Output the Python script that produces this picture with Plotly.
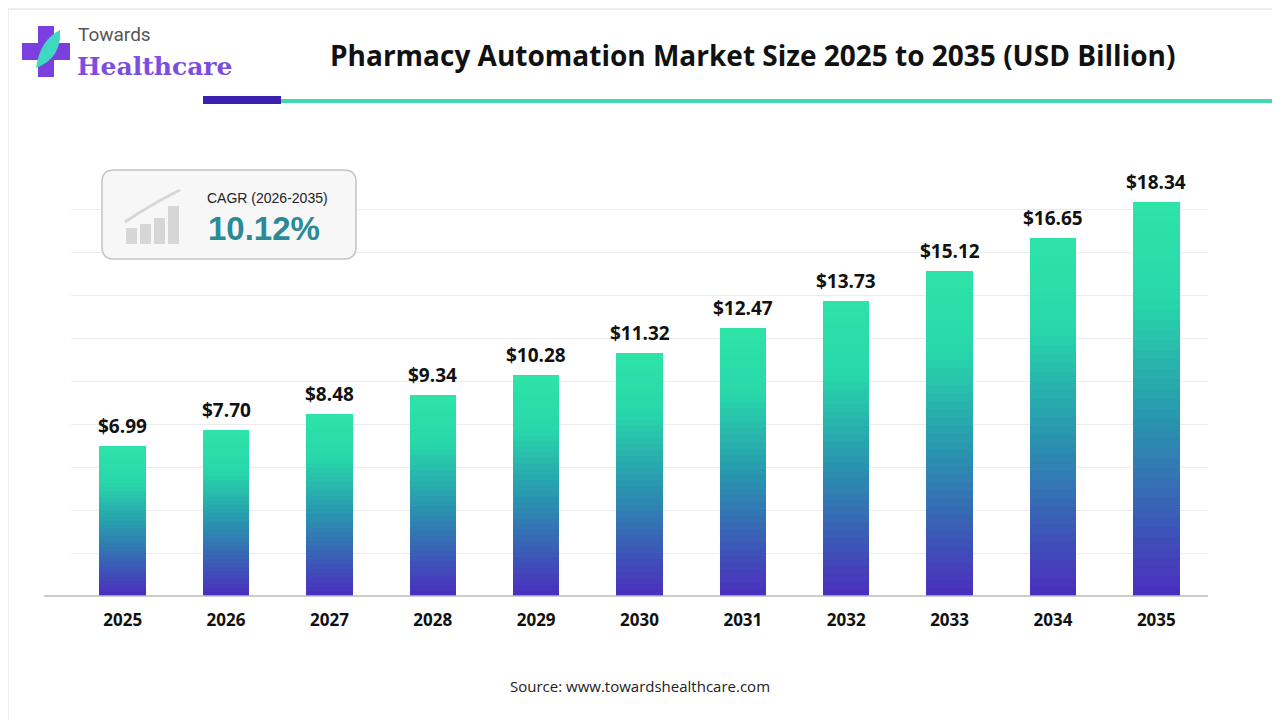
import plotly.graph_objects as go

years = ["2025", "2026", "2027", "2028", "2029", "2030", "2031", "2032", "2033", "2034", "2035"]
values = [6.99, 7.70, 8.48, 9.34, 10.28, 11.32, 12.47, 13.73, 15.12, 16.65, 18.34]
labels = ["$6.99", "$7.70", "$8.48", "$9.34", "$10.28", "$11.32", "$12.47", "$13.73", "$15.12", "$16.65", "$18.34"]

# gradient stops bottom -> top
stops = [(0.0, (75, 45, 190)), (0.45, (40, 150, 175)), (0.75, (40, 215, 170)), (1.0, (45, 228, 168))]
n_seg = 40


def grad(t):
    for (t0, c0), (t1, c1) in zip(stops[:-1], stops[1:]):
        if t <= t1:
            f = (t - t0) / (t1 - t0)
            return "rgb(%d,%d,%d)" % tuple(round(a + (b - a) * f) for a, b in zip(c0, c1))
    return "rgb(%d,%d,%d)" % stops[-1][1]


fig = go.Figure()
for i in range(n_seg):
    fig.add_trace(go.Bar(
        x=years, y=[v / n_seg for v in values],
        marker=dict(color=grad((i + 0.5) / n_seg), line=dict(width=0)),
        hoverinfo="skip", showlegend=False,
    ))

# on a category axis annotation x is the category index
for i, (v, lab) in enumerate(zip(values, labels)):
    fig.add_annotation(x=i, y=v, text="<b>" + lab + "</b>", showarrow=False, yshift=20,
                       font=dict(size=19, color="#111", family="Open Sans"))

# page body has an 8px offset; screen coords -> layout coords
OFF = 8
fig.update_layout(
    barmode="stack", bargap=0.55,
    width=1280, height=720,
    margin=dict(l=71 - OFF, r=80, t=166 - OFF, b=132),
    paper_bgcolor="white", plot_bgcolor="white",
    font=dict(family="Open Sans", color="#111"),
    xaxis=dict(type="category", tickfont=dict(size=17, family="Open Sans"), tickprefix="<b>", ticksuffix="</b>",
               showgrid=False, ticks="", ticklabelstandoff=12),
    yaxis=dict(range=[0, 20], dtick=2, showticklabels=False, gridcolor="#ececec", zeroline=False),
)


def px(x):
    return (x - 71) / 1137


def py(y):
    return (596 - y) / 430


shapes = [
    dict(type="line", xref="paper", yref="paper", x0=px(44), x1=1, y0=0, y1=0,
         line=dict(color="#bbbbbb", width=1.5)),
    dict(type="rect", xref="paper", yref="paper", x0=px(8), x1=px(1287),
         y0=py(727), y1=py(9), line=dict(color="#dddddd", width=1)),
    # header bars
    dict(type="rect", xref="paper", yref="paper", x0=px(203), x1=px(281), y0=py(104), y1=py(96),
         fillcolor="#3a1fb0", line=dict(width=0)),
    dict(type="rect", xref="paper", yref="paper", x0=px(281), x1=px(1290), y0=py(103), y1=py(99),
         fillcolor="#3fd8b0", line=dict(width=0)),
    # CAGR box
    dict(type="path", xref="paper", yref="paper", fillcolor="#f7f7f7", line=dict(color="#c4c4c4", width=1.5),
         path="M {0},{1} L {2},{1} Q {3},{1} {3},{4} L {3},{5} Q {3},{6} {2},{6} L {0},{6} Q {7},{6} {7},{5} L {7},{4} Q {7},{1} {0},{1} Z".format(
             px(114), py(170), px(344), px(356), py(182), py(247), py(259), px(102))),
    # logo cross
    dict(type="rect", xref="paper", yref="paper", x0=px(38), x1=px(54), y0=py(77), y1=py(26),
         fillcolor="#7b3fe0", line=dict(width=0)),
    dict(type="rect", xref="paper", yref="paper", x0=px(22), x1=px(70), y0=py(60), y1=py(43),
         fillcolor="#7b3fe0", line=dict(width=0)),
    dict(type="path", xref="paper", yref="paper", fillcolor="#3fd8c0", line=dict(width=0),
         path="M {},{} Q {},{} {},{} Q {},{} {},{} Z".format(px(36), py(68), px(40), py(40), px(60), py(30),
                                                           px(62), py(58), px(36), py(68))),
]
# icon bars
for x0, h in [(126, 16), (140, 20), (154, 26), (168, 38)]:
    shapes.append(dict(type="rect", xref="paper", yref="paper", x0=px(x0), x1=px(x0 + 11),
                       y0=py(244), y1=py(244 - h), fillcolor="#d6d6d6", line=dict(width=0)))
shapes.append(dict(type="path", xref="paper", yref="paper", line=dict(color="#d6d6d6", width=3),
                   path="M {},{} Q {},{} {},{}".format(px(125), py(222), px(150), py(205), px(180), py(190))))
fig.update_layout(shapes=shapes)

texts = [
    (px(752), py(55), "<b>Pharmacy Automation Market Size 2025 to 2035 (USD Billion)</b>", 28, "#111", "Open Sans"),
    (px(640), py(686), "Source: www.towardshealthcare.com", 15, "#222", "Open Sans"),
    (px(114), py(34), "Towards", 19, "#555", "Roboto"),
    (px(154), py(66), "<b>Healthcare</b>", 25, "#7b4de0", "DejaVu Serif"),
    (px(267), py(198), "CAGR (2026-2035)", 14, "#222", "Liberation Sans"),
    (px(264), py(229), "<b>10.12%</b>", 33, "#2b8a98", "Liberation Sans"),
]
for x, y, t, s, c, f in texts:
    fig.add_annotation(x=x, y=y, xref="paper", yref="paper", text=t, showarrow=False,
                       xanchor="center", yanchor="middle",
                       font=dict(size=s, color=c, family=f))

fig.write_html("out.html")
